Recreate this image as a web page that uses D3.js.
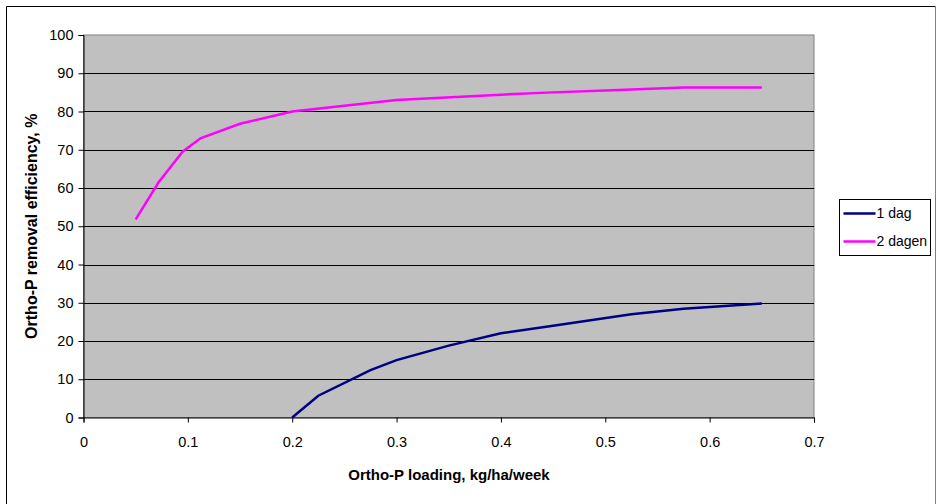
<!DOCTYPE html>
<html>
<head>
<meta charset="utf-8">
<script src="https://cdn.jsdelivr.net/npm/d3@7"></script>
<style>
  body { margin: 0; background: #fff; }
  svg { display: block; font-family: "Liberation Sans", Arial, sans-serif; }
</style>
</head>
<body>
<div id="chart"></div>
<script>
(function () {
  "use strict";

  // series
  const SERIES_NAMES = ["1 dag", "2 dagen"];
  const SERIES_COLORS = ["#000080", "#ff00ff"];
  const dag1X = [0.2, 0.225, 0.275, 0.3, 0.35, 0.4, 0.45, 0.525, 0.575, 0.65];
  const dag1Y = [0, 5.7, 12.4, 15, 18.8, 22, 24, 27, 28.4, 29.8];
  const dag2X = [0.05, 0.072, 0.095, 0.112, 0.15, 0.2, 0.3, 0.4, 0.45, 0.5, 0.575, 0.65];
  const dag2Y = [51.8, 61.5, 69.5, 73, 76.8, 80, 83, 84.4, 85, 85.5, 86.3, 86.3];
  const xTicks = [0, 0.1, 0.2, 0.3, 0.4, 0.5, 0.6, 0.7];
  const yTicks = [0, 10, 20, 30, 40, 50, 60, 70, 80, 90, 100];

  const width = 937;
  const height = 504;
  const plotLeft = 83.5;
  const plotRight = 814;
  const plotTop = 35;
  const plotBottom = 417.5;

  const svg = d3.select("#chart").append("svg")
    .attr("width", width)
    .attr("height", height);

  // outer frame
  svg.append("line").attr("x1", 6.5).attr("y1", 6.5).attr("x2", 6.5).attr("y2", height)
    .attr("stroke", "#000");
  svg.append("line").attr("x1", 6.5).attr("y1", 6.5).attr("x2", 935.5).attr("y2", 6.5)
    .attr("stroke", "#000");
  svg.append("line").attr("x1", 935.5).attr("y1", 6.5).attr("x2", 935.5).attr("y2", height)
    .attr("stroke", "#808080");

  const x = d3.scaleLinear().domain([0, 0.7]).range([plotLeft, plotRight]);
  const y = d3.scaleLinear().domain([0, 100]).range([plotBottom, plotTop]);

  // plot background
  svg.append("rect")
    .attr("x", plotLeft).attr("y", plotTop)
    .attr("width", plotRight - plotLeft).attr("height", plotBottom - plotTop)
    .attr("fill", "#c0c0c0")
    .attr("stroke", "#808080");

  // gridlines
  svg.append("g")
    .selectAll("line")
    .data(yTicks.filter((t) => t > 0 && t < 100))
    .join("line")
    .attr("x1", plotLeft).attr("x2", plotRight)
    .attr("y1", (d) => Math.round(y(d)) + 0.5)
    .attr("y2", (d) => Math.round(y(d)) + 0.5)
    .attr("stroke", "#000");

  // y axis
  const yAxis = svg.append("g")
    .attr("transform", `translate(${plotLeft},0)`)
    .call(d3.axisLeft(y).tickValues(yTicks).tickSize(5).tickPadding(5).tickFormat(d3.format("d")));
  // x axis
  const xAxis = svg.append("g")
    .attr("transform", `translate(0,${plotBottom})`)
    .call(d3.axisBottom(x).tickValues(xTicks).tickSize(5).tickPadding(14).tickFormat((d) => d === 0 ? "0" : d3.format(".1f")(d)));

  [yAxis, xAxis].forEach((ax) => {
    ax.select(".domain").attr("stroke", "#000");
    ax.selectAll(".tick line").attr("stroke", "#000");
    ax.selectAll(".tick text")
      .attr("fill", "#000")
      .attr("font-size", 14.5)
      .attr("font-family", "Liberation Sans, Arial, sans-serif");
  });

  // lines
  const line = d3.line().x((d) => x(d[0])).y((d) => y(d[1]));
  const series = [
    d3.zip(dag1X, dag1Y),
    d3.zip(dag2X, dag2Y)
  ];
  svg.append("g")
    .selectAll("path")
    .data(series)
    .join("path")
    .attr("d", line)
    .attr("fill", "none")
    .attr("stroke", (d, i) => SERIES_COLORS[i])
    .attr("stroke-width", 2.5);

  // axis titles
  svg.append("text")
    .attr("x", 449)
    .attr("y", 480)
    .attr("text-anchor", "middle")
    .attr("font-size", 15)
    .attr("font-weight", "bold")
    .text("Ortho-P loading, kg/ha/week");
  svg.append("text")
    .attr("transform", `translate(37,${(plotTop + plotBottom) / 2}) rotate(-90)`)
    .attr("text-anchor", "middle")
    .attr("font-size", 16)
    .attr("font-weight", "bold")
    .text("Ortho-P removal efficiency, %");

  // legend
  const legend = svg.append("g").attr("transform", "translate(839.5,199.5)");
  legend.append("rect")
    .attr("width", 91).attr("height", 56)
    .attr("fill", "#fff").attr("stroke", "#000");
  const item = legend.selectAll(".item")
    .data(SERIES_NAMES)
    .join("g")
    .attr("class", "item")
    .attr("transform", (d, i) => `translate(0,${14 + i * 28})`);
  item.append("line")
    .attr("x1", 4).attr("x2", 36)
    .attr("y1", 0).attr("y2", 0)
    .attr("stroke", (d, i) => SERIES_COLORS[i])
    .attr("stroke-width", 2.5);
  item.append("text")
    .attr("x", 37).attr("y", 0)
    .attr("dy", "0.35em")
    .attr("font-size", 14)
    .text((d) => d);
})();
</script>
</body>
</html>
